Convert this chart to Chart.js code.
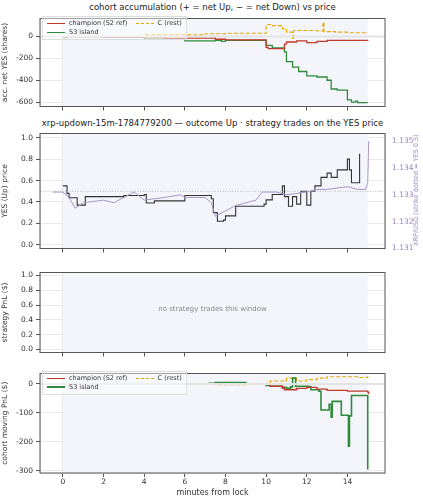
<!DOCTYPE html>
<html><head><meta charset="utf-8">
<script src="https://cdn.jsdelivr.net/npm/chart.js@4"></script>
<style>
body{margin:0;width:423px;height:500px;position:relative;background:#fff;font-family:"DejaVu Sans",sans-serif;overflow:hidden}
canvas{position:absolute;left:0}
.t{position:absolute;left:40px;width:345px;text-align:center;font-size:8.5px;color:#222}
.lg{position:absolute;font-size:6.5px;color:#333;background:rgba(255,255,255,.45);border:1px solid #ddd;padding:2px 4px;line-height:9px}
.lg span{display:inline-block;width:18px;height:0;vertical-align:middle;margin-right:4px}
.note{position:absolute;left:40px;width:345px;top:305px;text-align:center;font-size:7px;color:#888}
.r{position:absolute;left:416px;top:190px;transform:translate(-50%,-50%) rotate(-90deg);white-space:nowrap;font-size:6.5px;color:#9b86c0}
</style></head><body>
<div class="t" style="top:2px">cohort accumulation (+ = net Up, − = net Down) vs price</div>
<div class="t" style="top:118px">xrp-updown-15m-1784779200 — outcome Up · strategy trades on the YES price</div>
<canvas id="c1"></canvas><canvas id="c2"></canvas><canvas id="c3"></canvas><canvas id="c4"></canvas>
<div class="note">no strategy trades this window</div>
<div class="r">XRP/USD (strike dotted = YES 0.5)</div>
<div class="lg" style="left:42px;top:16px"><span style="border-top:1.5px solid #c0392b"></span>champion (S2 ref)&nbsp;&nbsp;&nbsp;&nbsp;<span style="border-top:1.5px dashed #e6a800"></span>C (rest)<br><span style="border-top:1.5px solid #2e8b3a"></span>S3 island</div>
<div class="lg" style="left:42px;top:371px"><span style="border-top:1.5px solid #c0392b"></span>champion (S2 ref)&nbsp;&nbsp;&nbsp;&nbsp;<span style="border-top:1.5px dashed #e6a800"></span>C (rest)<br><span style="border-top:2.5px solid #2e8b3a"></span>S3 island</div>
<script>
// cohort accumulation (shares)
const accChampion = [[0,0],[2,-5],[5,-15],[7.5,-25],[8,-30],[10,-30],[10,-100],[10.1,-110],[10.8,-110],[10.9,-70],[11,-50],[11.5,-40],[12,-55],[12.5,-45],[13,-35],[15,-30]];
const accS3 = [[0,-10],[0.2,0],[2,-5],[4,-25],[6,-40],[7.5,-35],[7.8,-45],[8,-35],[10,-35],[10,-80],[10.3,-105],[10.8,-105],[10.9,-140],[11,-230],[11.3,-280],[11.6,-320],[12,-360],[12.5,-370],[13,-400],[13.2,-480],[13.5,-490],[14,-580],[14.2,-600],[14.4,-590],[14.5,-605],[15,-605]];
const accC = [[0,0],[4,15],[7,25],[8,30],[9,30],[10,110],[10.3,100],[10.8,70],[11,40],[11.3,-25],[11.35,55],[12.5,50],[12.8,130],[12.85,45],[13.4,40],[14,35],[15,30]];
// YES price and XRP/USD
const yesPrice = [[0,0.55],[0.2,0.48],[0.3,0.44],[0.7,0.37],[1.1,0.45],[3,0.46],[4,0.47],[4.1,0.39],[4.5,0.41],[6,0.46],[7.3,0.43],[7.4,0.3],[7.6,0.22],[7.9,0.23],[8,0.27],[8.5,0.36],[9.9,0.38],[10,0.42],[10.3,0.47],[10.8,0.55],[10.9,0.45],[11.1,0.36],[11.3,0.45],[11.5,0.38],[11.7,0.5],[12,0.37],[12.2,0.5],[12.4,0.55],[12.7,0.63],[13,0.67],[13.2,0.63],[13.5,0.7],[14,0.8],[14.1,0.7],[14.2,0.58],[14.6,0.85]];
const xrpUsd = [[-0.5,1.1331],[0,1.1331],[0.3,1.1329],[0.6,1.1325],[1,1.1327],[2,1.1328],[2.5,1.1327],[3,1.1329],[3.5,1.1331],[4,1.1328],[5,1.1329],[5.8,1.1330],[6,1.1329],[7,1.1329],[7.3,1.1327],[7.5,1.1322],[8,1.1324],[8.5,1.1326],[9,1.1327],[9.5,1.1328],[9.8,1.1331],[10.5,1.1331],[11,1.1330],[12,1.1331],[12.5,1.1332],[13,1.1332],[14,1.1333],[14.5,1.1332],[14.9,1.1332],[15,1.13345],[15.05,1.135]];
// cohort moving PnL ($)
const pnlChampion = [[0,0],[10,-2],[10.2,-8],[10.8,-15],[10.9,-20],[11.5,-15],[12,-12],[12.5,-18],[13,-22],[14,-25],[15,-28],[15.05,-35]];
const pnlS3 = [[0,0],[7.2,2],[7.5,5],[8,5],[9,0],[10,-5],[10.2,-8],[10.8,-12],[11,-15],[11.2,-10],[11.3,20],[11.45,-8],[12.1,-10],[12.2,-20],[12.6,-25],[12.7,-90],[13,-90],[13.1,-70],[13.2,-115],[13.25,-60],[13.6,-60],[13.7,-108],[14,-108],[14.05,-215],[14.1,-110],[14.2,-40],[14.95,-40],[15,-295]];
const pnlC = [[0,0],[7.5,-3],[9,-2],[10,2],[10.2,10],[11,20],[11.5,10],[12,15],[12.5,20],[13,25],[14,25],[14.5,22],[15,30]];
const minuteTicks = [0,2,4,6,8,10,12,14];

const pts = a => a.map(p => ({x:p[0], y:p[1]}));
const tickFont = {family:'DejaVu Sans', size:7.5};
const shade = {
  id:'shade',
  beforeDatasetsDraw(ch){
    const {ctx, chartArea:a, scales:{x}} = ch;
    ctx.save();
    ctx.fillStyle = '#f3f5fb';
    ctx.fillRect(x.getPixelForValue(0), a.top, x.getPixelForValue(15)-x.getPixelForValue(0), a.bottom-a.top);
    ctx.restore();
  },
  afterDraw(ch){
    const {ctx, chartArea:a} = ch;
    ctx.save(); ctx.strokeStyle='#555'; ctx.lineWidth=1;
    ctx.strokeRect(a.left, a.top, a.right-a.left, a.bottom-a.top); ctx.restore();
  }
};

function panel(id, top, plotH, bottomH, datasets, y, opts){
  opts = opts || {};
  const c = document.getElementById(id);
  c.style.top = (top-3)+'px';
  c.style.width = '423px'; c.style.height = (plotH+bottomH+3)+'px';
  const scales = {
    x:{type:'linear', min:-1.13, max:15.85, afterBuildTicks:s=>{s.ticks=minuteTicks.map(v=>({value:v}))},
       grid:{color:'#e8e8ee', tickLength:4, tickColor:'#555'},
       ticks:{display:!!opts.xlabels, font:tickFont, color:'#333', maxRotation:0, padding:1},
       title:{display:!!opts.xlabels, text:'minutes from lock', font:{family:'DejaVu Sans',size:8}, color:'#333', padding:0},
       afterFit:s=>{s.height=bottomH}},
    y:Object.assign({position:'left', grid:{color:'#e8e8ee', tickLength:4, tickColor:'#555'},
       ticks:{font:tickFont, color:'#333'}, afterFit:s=>{s.width=40}}, y)
  };
  if (opts.y2) scales.y2 = opts.y2;
  new Chart(c, {
    type:'line',
    data:{datasets},
    options:{responsive:false, animation:false,
      layout:{padding:{top:3, right:opts.y2?0:38, left:0, bottom:0}},
      plugins:{legend:{display:false}, tooltip:{enabled:false}},
      elements:{point:{radius:0}},
      scales},
    plugins:[shade]
  });
}
function ln(data, color, w, extra){
  return Object.assign({data:pts(data), borderColor:color, borderWidth:w, stepped:true, fill:false}, extra||{});
}
const yTitle = t => ({display:true, text:t, font:{family:'DejaVu Sans',size:7.5}, color:'#333', padding:1});

panel('c1', 14, 94, 6, [
  {data:[{x:-1.13,y:0},{x:15.85,y:0}], borderColor:'#e4e4e4', borderWidth:2},
  ln(accChampion,'#c0392b',1.3),
  ln(accS3,'#2e8b3a',1.3),
  ln(accC,'#e6a800',1.1,{borderDash:[4,2]})
], {min:-640, max:165, afterBuildTicks:s=>{s.ticks=[-600,-400,-200,0].map(v=>({value:v}))}, title:yTitle('acc. net YES (shares)')});

panel('c2', 129, 121, 6, [
  {data:[{x:-1.13,y:0.5},{x:15.85,y:0.5}], borderColor:'#aaa', borderWidth:0.8, borderDash:[1,1.5]},
  Object.assign(ln(xrpUsd,'#a995c9',1,{stepped:false}),{yAxisID:'y2'}),
  ln(yesPrice,'#333',1.1)
], {min:-0.035, max:1.04, afterBuildTicks:s=>{s.ticks=[0,0.2,0.4,0.6,0.8,1].map(v=>({value:v}))},
    ticks:{font:tickFont, color:'#333', callback:v=>v.toFixed(1)}, title:yTitle('YES (Up) price')},
  {y2:{position:'right', min:1.131, max:1.13528, grid:{display:false, tickLength:4, tickColor:'#9b86c0'},
    afterBuildTicks:s=>{s.ticks=[1.131,1.132,1.133,1.134,1.135].map(v=>({value:v}))},
    ticks:{font:tickFont, color:'#9b86c0', callback:v=>v.toFixed(3)},
    afterFit:s=>{s.width=38}}});

panel('c3', 268, 86, 6, [], {min:-0.04, max:1.04,
  afterBuildTicks:s=>{s.ticks=[0,0.2,0.4,0.6,0.8,1].map(v=>({value:v}))},
  ticks:{font:tickFont, color:'#333', callback:v=>v.toFixed(1)}, title:yTitle('strategy PnL ($)')});

panel('c4', 369, 104, 25, [
  {data:[{x:-1.13,y:0},{x:15.85,y:0}], borderColor:'#e4e4e4', borderWidth:2},
  ln(pnlChampion,'#c0392b',1.3),
  ln(pnlS3,'#2e8b3a',1.6),
  ln(pnlC,'#e6a800',1.1,{borderDash:[4,2]})
], {min:-307, max:36, afterBuildTicks:s=>{s.ticks=[-300,-200,-100,0].map(v=>({value:v}))}, title:yTitle('cohort moving PnL ($)')},
  {xlabels:true});
</script>
</body></html>
